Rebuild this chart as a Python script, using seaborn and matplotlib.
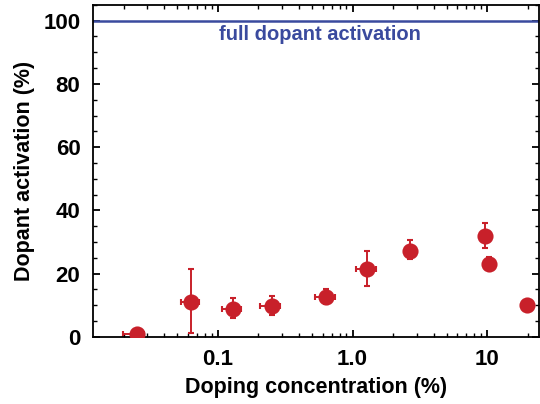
import numpy as np
import pandas as pd
import matplotlib
matplotlib.use("Agg")
import matplotlib.pyplot as plt
import seaborn as sns
from matplotlib.ticker import FixedLocator, MultipleLocator, LogLocator, NullFormatter, FixedFormatter

# data
concentration = [0.025, 0.063, 0.129, 0.252, 0.638, 1.27, 2.67, 9.6, 10.3, 19.8]
activation = [0.9, 11.1, 8.9, 9.8, 12.6, 21.5, 27.2, 31.8, 23.0, 10.0]
conc_low = [0.0199, 0.053, 0.108, 0.206, 0.528, 1.06, 2.67, 9.6, 10.3, 19.8]
conc_high = [0.0283, 0.073, 0.148, 0.287, 0.736, 1.49, 2.67, 9.6, 10.3, 19.8]
act_low = [0.9, 1.4, 6.1, 7.0, 10.4, 16.1, 24.5, 28.0, 21.7, 10.0]
act_high = [0.9, 21.5, 12.3, 12.9, 15.2, 27.2, 30.6, 35.9, 25.3, 10.0]
x_ticks = [0.1, 1.0, 10]
x_tick_labels = ["0.1", "1.0", "10"]
y_ticks = [0, 20, 40, 60, 80, 100]
full_level = 100

sns.set_style("ticks")
plt.rcParams['font.family'] = ['Liberation Sans', 'DejaVu Sans']
plt.rcParams['font.weight'] = 'bold'
plt.rcParams['text.color'] = 'black'
plt.rcParams['axes.labelcolor'] = 'black'
plt.rcParams['xtick.color'] = 'black'
plt.rcParams['ytick.color'] = 'black'

df = pd.DataFrame({"conc": concentration, "act": activation})

fig = plt.figure(figsize=(5.4, 4.04), dpi=100)
ax = fig.add_axes([0.172, 0.166, 0.826, 0.822])

red = "#c8202a"
blue = "#3a4a9e"

xerr = [np.array(concentration) - np.array(conc_low), np.array(conc_high) - np.array(concentration)]
yerr = [np.array(activation) - np.array(act_low), np.array(act_high) - np.array(activation)]
ax.errorbar(concentration, activation, xerr=xerr, yerr=yerr, fmt='none',
            ecolor=red, elinewidth=1.4, capsize=2.5, capthick=1.5, zorder=2)
sns.scatterplot(data=df, x="conc", y="act", ax=ax, color=red, s=135,
                edgecolor=red, linewidth=0, zorder=3, legend=False)

ax.axhline(full_level, color=blue, lw=1.8, zorder=1)
ax.text(np.sqrt(0.0118 * 24.2) * 1.07, 95.6, "full dopant activation", color=blue,
        fontsize=14.5, fontweight='bold', ha='center', va='center')

ax.set_xscale('log')
ax.set_xlim(0.0118, 24.2)
ax.set_ylim(0, 105)
ax.xaxis.set_major_locator(FixedLocator(x_ticks))
ax.xaxis.set_major_formatter(FixedFormatter(x_tick_labels))
ax.xaxis.set_minor_locator(LogLocator(base=10, subs=np.arange(2, 10)))
ax.xaxis.set_minor_formatter(NullFormatter())
ax.yaxis.set_major_locator(FixedLocator(y_ticks))
ax.yaxis.set_minor_locator(MultipleLocator(5))

for s in ax.spines.values():
    s.set_linewidth(1.3)
    s.set_color("black")
    s.set_visible(True)
ax.tick_params(which='both', direction='in', top=True, right=True, color='black')
ax.tick_params(which='major', length=5, width=1.3, labelsize=16, pad=9, labelcolor='black')
ax.tick_params(which='minor', length=3, width=1.0)
for lab in ax.get_xticklabels() + ax.get_yticklabels():
    lab.set_fontweight('bold')

ax.set_xlabel("Doping concentration (%)", fontsize=15.5, fontweight='bold', labelpad=5, color='black')
ax.set_ylabel("Dopant activation (%)", fontsize=15.5, fontweight='bold', labelpad=6, color='black')

fig.savefig("out.png", dpi=100)
